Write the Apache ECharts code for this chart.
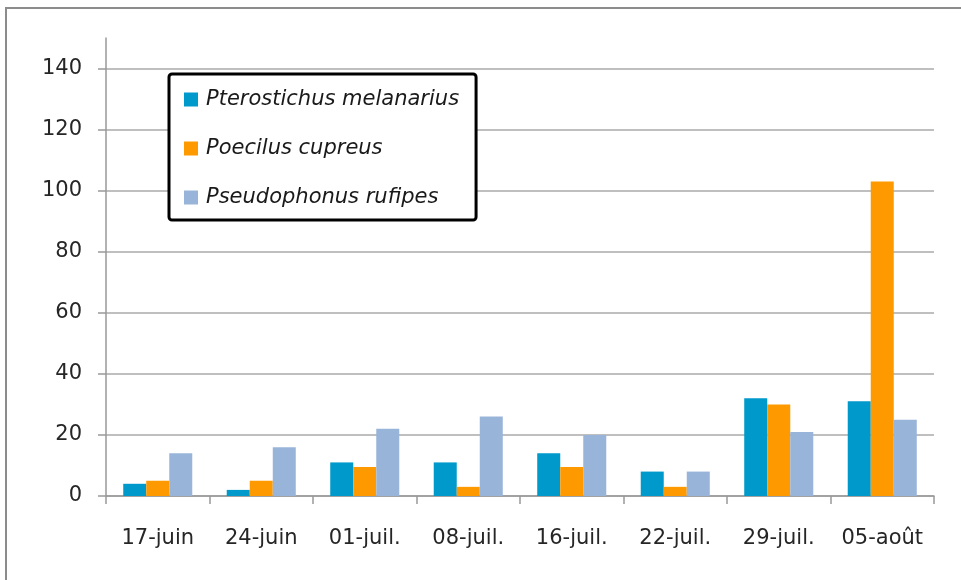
<!DOCTYPE html>
<html>
<head>
<meta charset="utf-8">
<script src="https://cdn.jsdelivr.net/npm/echarts@6/dist/echarts.min.js"></script>
<style>
html,body{margin:0;padding:0;background:#fff;}
#chart{width:961px;height:580px;}
</style>
</head>
<body>
<div id="chart"></div>
<script>
const categories = ['17-juin','24-juin','01-juil.','08-juil.','16-juil.','22-juil.','29-juil.','05-août'];
const seriesNames = ['Pterostichus melanarius','Poecilus cupreus','Pseudophonus rufipes'];
const melanarius = [4, 2, 11, 11, 14, 8, 32, 31];
const cupreus = [5, 5, 9.5, 3, 9.5, 3, 30, 103];
const rufipes = [14, 16, 22, 26, 20, 8, 21, 25];
const yTicks = [0, 20, 40, 60, 80, 100, 120, 140];
const colors = ['#0099cc', '#ff9900', '#99b4d9'];

const chart = echarts.init(document.getElementById('chart'));
const font = 'DejaVu Sans';
const dataSets = [melanarius, cupreus, rufipes];
chart.setOption({
  animation: false,
  backgroundColor: '#fff',
  grid: {left: 106, right: 27, top: 38, bottom: 84, containLabel: false},
  graphic: [{
    type: 'polyline', z: -10, silent: true,
    shape: {points: [[6, 700], [6, 8], [1100, 8]]},
    style: {fill: 'none', stroke: '#8c8c8c', lineWidth: 2}
  }],
  legend: {
    orient: 'vertical',
    left: 169, top: 74,
    padding: [15, 17, 12, 15],
    itemGap: 28,
    itemWidth: 14, itemHeight: 14,
    icon: 'rect',
    borderColor: '#000', borderWidth: 3, borderRadius: 3,
    backgroundColor: '#fff',
    textStyle: {fontFamily: font, fontStyle: 'italic', fontSize: 21, color: '#1a1a1a', padding: [0, 0, 0, 3]},
    data: seriesNames
  },
  xAxis: {
    type: 'category',
    data: categories,
    axisLine: {lineStyle: {color: '#999', width: 1.5}},
    axisTick: {show: true, length: 8, lineStyle: {color: '#999', width: 1.5}},
    axisLabel: {interval: 0, fontFamily: font, fontSize: 21, color: '#262626', margin: 32}
  },
  yAxis: {
    type: 'value', min: 0, max: 150, interval: 20,
    axisLine: {show: true, lineStyle: {color: '#999', width: 1.5}},
    axisTick: {show: true, length: 8, customValues: yTicks, lineStyle: {color: '#999', width: 1.5}},
    axisLabel: {fontFamily: font, fontSize: 21, color: '#262626', margin: 24, customValues: yTicks},
    splitLine: {lineStyle: {color: ['#aaa','#aaa','#aaa','#aaa','#aaa','#aaa','#aaa','#aaa','rgba(0,0,0,0)'], width: 1.5}}
  },
  series: seriesNames.map((n, i) => ({
    name: n, type: 'bar', data: dataSets[i],
    barGap: '0%', barCategoryGap: '33.3%',
    itemStyle: {color: colors[i]}
  }))
});
</script>
</body>
</html>
